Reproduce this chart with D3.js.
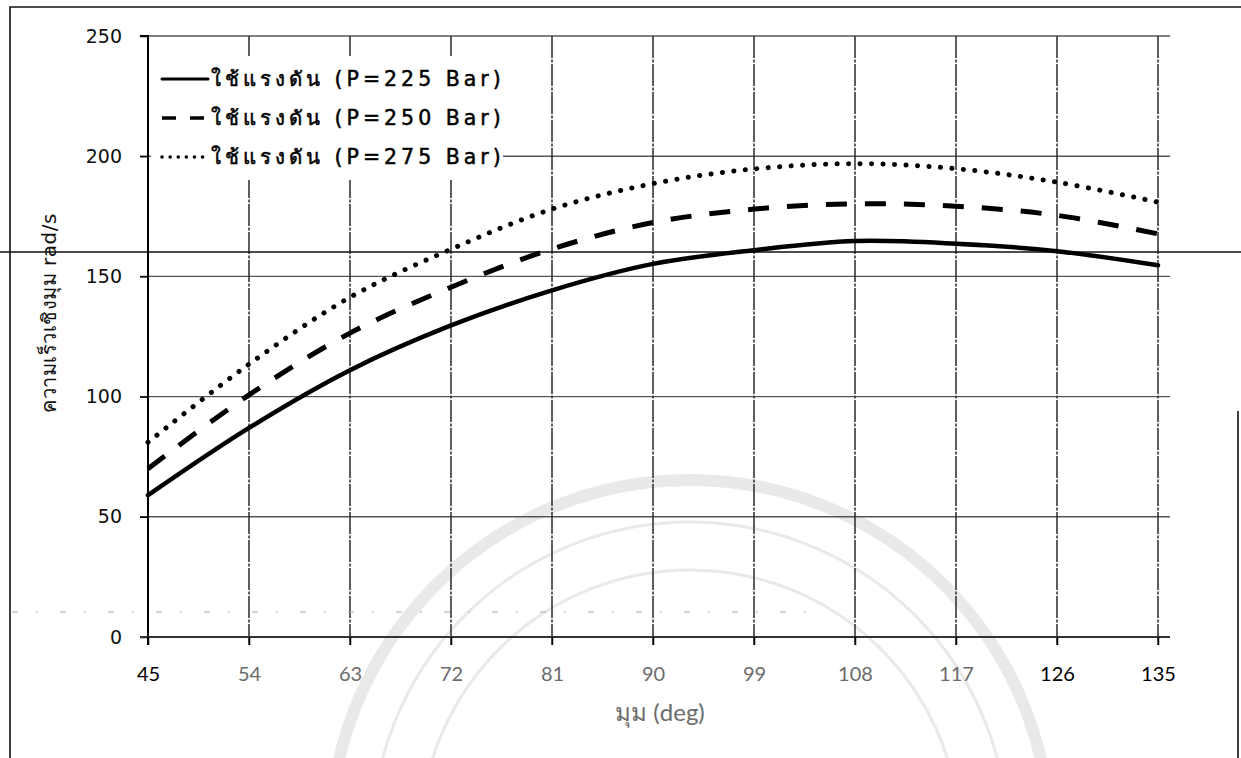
<!DOCTYPE html>
<html>
<head>
<meta charset="utf-8">
<script src="https://cdn.jsdelivr.net/npm/d3@7"></script>
<style>
  html, body { margin: 0; padding: 0; background: #fff; }
  svg { display: block; }
</style>
</head>
<body>
<script>
// Angle (deg) on the x axis
const angles = [45, 54, 63, 72, 81, 90, 99, 108, 117, 126, 135];
// Angular velocity (rad/s) for each supply pressure
const speedP225 = [59, 87, 111, 129.6, 144.2, 155.2, 160.9, 164.7, 163.6, 160.5, 154.6];
const speedP250 = [70, 100.7, 126.4, 145.5, 161.4, 172.4, 178, 180.2, 179.2, 175.4, 167.7];
const speedP275 = [81, 113.5, 141.3, 161.3, 178, 188.6, 194.7, 196.9, 194.8, 189.2, 180.9];
const seriesNames = ["ใช้แรงดัน (P=225 Bar)", "ใช้แรงดัน (P=250 Bar)", "ใช้แรงดัน (P=275 Bar)"];
const yTicks = [0, 50, 100, 150, 200, 250];
const xTitle = "มุม (deg)";
const yTitle = "ความเร็วเชิงมุม rad/s";

const W = 1241, H = 758;
const svg = d3.select("body").append("svg").attr("width", W).attr("height", H);

const x = d3.scaleLinear().domain([45, 135]).range([148, 1158]);
const y = d3.scaleLinear().domain([0, 250]).range([637, 36]);

// Page frame
svg.append("path")
  .attr("d", "M10,758 L10,7 L1241,7 M1238,411 L1238,758")
  .attr("fill", "none").attr("stroke", "#111").attr("stroke-width", 1.6);

// Faint emblem behind the plot
const emblem = svg.append("g").attr("fill", "none").attr("stroke", "#e9e9e9");
emblem.append("circle").attr("cx", 690).attr("cy", 840).attr("r", 360).attr("stroke-width", 12);
emblem.append("circle").attr("cx", 690).attr("cy", 840).attr("r", 318).attr("stroke-width", 3);
emblem.append("circle").attr("cx", 690).attr("cy", 840).attr("r", 270).attr("stroke-width", 3);

// Horizontal grid lines
svg.append("g")
  .selectAll("line").data(yTicks.filter(d => d > 0)).join("line")
  .attr("x1", 140).attr("x2", 1170)
  .attr("y1", d => y(d)).attr("y2", d => y(d))
  .attr("stroke", "#555").attr("stroke-width", 1.4);

// Vertical grid lines
svg.append("g")
  .selectAll("line").data(angles.slice(1)).join("line")
  .attr("x1", d => x(d)).attr("x2", d => x(d))
  .attr("y1", y(250)).attr("y2", y(0) + 8)
  .attr("stroke", "#2a2a2a").attr("stroke-width", 1.5)
  .attr("stroke-dasharray", "22 1.5 3 1.5");

// Y axis
const yAxis = svg.append("g").attr("transform", `translate(${x(45)},0)`)
  .call(d3.axisLeft(y).tickValues(yTicks).tickSize(8).tickPadding(18));
yAxis.select(".domain").attr("stroke", "#000").attr("stroke-width", 2)
  .attr("d", `M-8,${y(250)}H0V${y(0) + 8}`);
yAxis.selectAll(".tick line").attr("stroke", "#000").attr("stroke-width", 1.5);
yAxis.selectAll(".tick text")
  .attr("font-family", "DejaVu Sans, Verdana, sans-serif")
  .attr("font-size", 19).attr("fill", "#111");

// X axis
const xAxis = svg.append("g").attr("transform", `translate(0,${y(0)})`)
  .call(d3.axisBottom(x).tickValues(angles).tickSize(8).tickPadding(22));
xAxis.select(".domain").attr("stroke", "#333").attr("stroke-width", 1.8)
  .attr("d", "M140,0H1170");
xAxis.selectAll(".tick line").attr("stroke", "#000").attr("stroke-width", 1.5);
xAxis.selectAll(".tick text")
  .attr("font-family", "Lato, Carlito, sans-serif")
  .attr("font-size", 20)
  .attr("fill", d => (d === 45 || d === 126 || d === 135) ? "#000" : "#6b6b6b");

// Stray scan rule across the page
svg.append("line").attr("x1", 0).attr("x2", W).attr("y1", 252).attr("y2", 252)
  .attr("stroke", "#111").attr("stroke-width", 1.6);
svg.append("line").attr("x1", 12).attr("x2", 820).attr("y1", 612).attr("y2", 612)
  .attr("stroke", "#aaa").attr("stroke-width", 1).attr("stroke-dasharray", "6 18 2 22");

// Series lines
const series = [
  { name: seriesNames[0], values: speedP225, dash: null, width: 4.5, cap: "round" },
  { name: seriesNames[1], values: speedP250, dash: "21 18", width: 5, cap: "butt" },
  { name: seriesNames[2], values: speedP275, dash: "0.1 11.4", width: 5, cap: "round" }
];
const line = d3.line()
  .x((d, i) => x(angles[i]))
  .y(d => y(d))
  .curve(d3.curveCatmullRom.alpha(0.5));

svg.append("g").selectAll("path").data(series).join("path")
  .attr("d", d => line(d.values))
  .attr("fill", "none").attr("stroke", "#000")
  .attr("stroke-width", d => d.width)
  .attr("stroke-linecap", d => d.cap)
  .attr("stroke-dasharray", d => d.dash);

// Legend
const legend = svg.append("g");
legend.append("rect").attr("x", 151).attr("y", 56).attr("width", 352).attr("height", 124).attr("fill", "#fff");
const rows = legend.selectAll("g").data(series).join("g")
  .attr("transform", (d, i) => `translate(162,${79 + i * 39})`);
rows.append("line").attr("x1", 0).attr("x2", 46).attr("y1", 0).attr("y2", 0)
  .attr("stroke", "#000")
  .attr("stroke-width", d => d.width - 1.5)
  .attr("stroke-linecap", d => d.cap)
  .attr("stroke-dasharray", (d, i) => i === 0 ? null : (i === 1 ? "14 14" : "0.1 8"));
rows.append("text").attr("x", 49).attr("y", 7)
  .attr("font-family", "DejaVu Sans, Verdana, sans-serif")
  .attr("font-size", 20.5).attr("letter-spacing", 4).attr("fill", "#000")
  .attr("stroke", "#000").attr("stroke-width", 0.5)
  .text(d => d.name);

// Axis titles
svg.append("text").attr("x", 660).attr("y", 721).attr("text-anchor", "middle")
  .attr("font-family", "Lato, sans-serif").attr("font-size", 24).attr("fill", "#6b6b6b")
  .text(xTitle);
svg.append("text").attr("transform", "translate(56,313) rotate(-90)").attr("text-anchor", "middle")
  .attr("font-family", "DejaVu Sans, Verdana, sans-serif").attr("font-size", 20)
  .attr("letter-spacing", 0.5).attr("fill", "#111")
  .text(yTitle);
</script>
</body>
</html>
